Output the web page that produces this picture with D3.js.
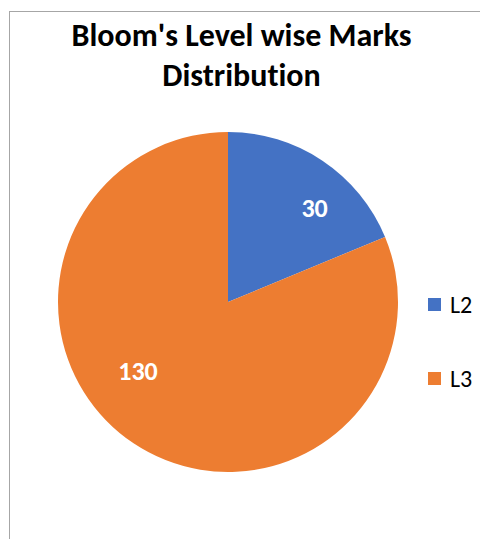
<!DOCTYPE html>
<html><head><meta charset="utf-8">
<script src="https://cdn.jsdelivr.net/npm/d3@7"></script>
<style>body{margin:0;background:#fff}svg{display:block}text{font-variant-ligatures:none;font-feature-settings:"liga" 0}</style>
</head><body>
<svg id="c" width="480" height="539"></svg>
<script>
const categories = ["L2", "L3"];
const values = [30, 130];
const colors = ["#4472C4", "#ED7D31"];
const titleLines = ["Bloom's Level wise Marks", "Distribution"];

// layout-only constants for label placement
const labelAngleShift = [9, 19];      // degrees
const labelRadiusFrac = [0.75, 0.665];

const svg = d3.select("#c");
const font = "Carlito, Calibri, 'Open Sans', 'Liberation Sans', sans-serif";

svg.append("rect").attr("x", 9.5).attr("y", 11.5).attr("width", 500).attr("height", 560)
  .attr("fill", "#fff").attr("stroke", "#a6a6a6").attr("stroke-width", 1);

svg.selectAll("text.title").data(titleLines).join("text")
  .attr("class", "title")
  .attr("x", 241.5).attr("y", (d, i) => 46 + i * 40)
  .attr("text-anchor", "middle")
  .attr("font-family", font).attr("font-weight", "bold").attr("font-size", 32)
  .attr("fill", "#000").text(d => d);

const cx = 228, cy = 302, r = 170;
const pie = d3.pie().sort(null).value(d => d.v);
const data = pie(categories.map((c, i) => ({ c, v: values[i], col: colors[i] })));
const arc = d3.arc().innerRadius(0).outerRadius(r);
const g = svg.append("g").attr("transform", `translate(${cx},${cy})`);
g.selectAll("path").data(data).join("path").attr("d", arc).attr("fill", d => d.data.col);

g.selectAll("text").data(data).join("text")
  .attr("transform", (d, i) => {
    const a = (d.startAngle + d.endAngle) / 2 + labelAngleShift[i] * Math.PI / 180;
    const rr = r * labelRadiusFrac[i];
    const c = d3.arc().innerRadius(rr).outerRadius(rr).centroid({ startAngle: a, endAngle: a });
    return `translate(${c})`;
  })
  .attr("dy", "0.35em")
  .attr("text-anchor", "middle")
  .attr("font-family", font).attr("font-weight", "bold").attr("font-size", 26)
  .attr("fill", "#fff").text(d => d.data.v);

const leg = svg.append("g");
const ly = d3.scalePoint().domain(categories).range([304.5, 378.5]);
leg.selectAll("rect").data(categories).join("rect")
  .attr("x", 428).attr("y", d => ly(d) - 6.5).attr("width", 13).attr("height", 13)
  .attr("fill", (d, i) => colors[i]);
leg.selectAll("text").data(categories).join("text")
  .attr("x", 450).attr("y", d => ly(d) + 8)
  .attr("font-family", font).attr("font-size", 24).attr("fill", "#000").text(d => d);
</script>
</body></html>
